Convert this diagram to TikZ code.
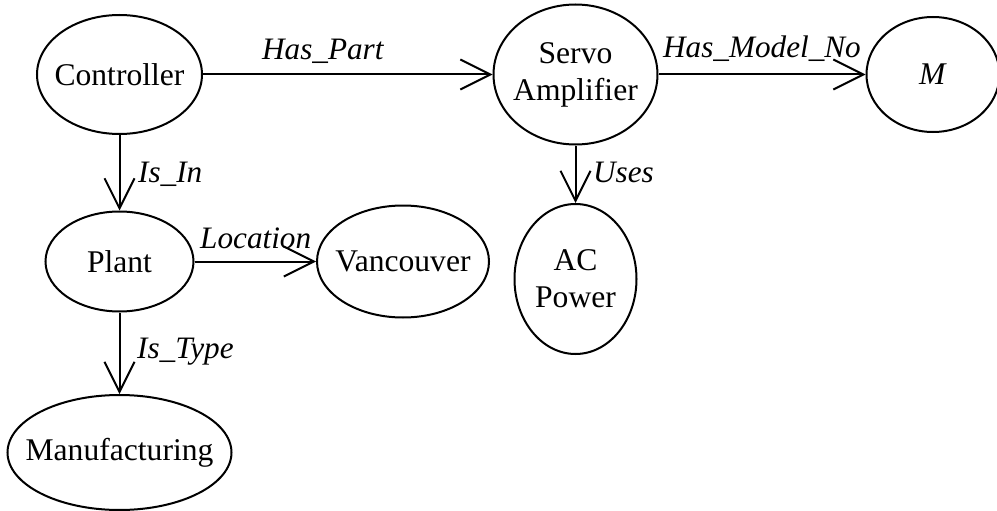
\documentclass[tikz,border=0pt]{standalone}
\usepackage{fontspec}
\setmainfont{Liberation Serif}
\usetikzlibrary{shapes.geometric,arrows.meta}
\begin{document}
\begin{tikzpicture}[x=1pt,y=-1pt,
  ent/.style 2 args={draw,ellipse,line width=2pt,inner sep=0pt,minimum width=#1pt,minimum height=#2pt},
  entlab/.style={inner sep=0pt,align=center,font=\fontsize{31.6}{37}\selectfont},
  rel/.style={line width=2pt,-{Straight Barb[length=30pt,width=30pt]}},
  lab/.style={anchor=base west,inner sep=0pt,font=\fontsize{31.2}{37}\selectfont\itshape}]
\useasboundingbox (0,0) rectangle (997,511);
\node[ent={165}{119},label={[entlab]center:Controller}] (ctrl) at (119.5,74.5) {};
\node[ent={164}{140},label={[entlab]center:Servo\\Amplifier}] (servo) at (575.5,74.5) {};
\node[ent={133}{115},label={[entlab]center:\textit{M}}] (m) at (933,74.5) {};
\node[ent={148}{100},label={[entlab]center:Plant}] (plant) at (119.5,261.5) {};
\node[ent={172}{112},label={[entlab]center:Vancouver}] (vanc) at (403,261.5) {};
\node[ent={122}{150},label={[entlab]center:AC\\Power}] (ac) at (575.5,279) {};
\node[ent={224}{115},label={[entlab]center:Manufacturing}] (manu) at (119.5,452.5) {};
\draw[rel] (ctrl) -- (servo);
\draw[rel] (servo) -- (m);
\draw[rel] (ctrl) -- (plant);
\draw[rel] (plant) -- (vanc);
\draw[rel] (plant) -- (manu);
\draw[rel] (servo) -- (ac);
\node[lab] (lhaspart) at (262,60) {Has\_Part};
\node[lab] (lisin) at (138,182) {Is\_In};
\node[lab] (lloc) at (200,248) {Location};
\node[lab] (listype) at (137,358) {Is\_Type};
\node[lab] (lmodel) at (663,58) {Has\_Model\_No};
\node[lab] (luses) at (593,182) {Uses};
\end{tikzpicture}
\end{document}
